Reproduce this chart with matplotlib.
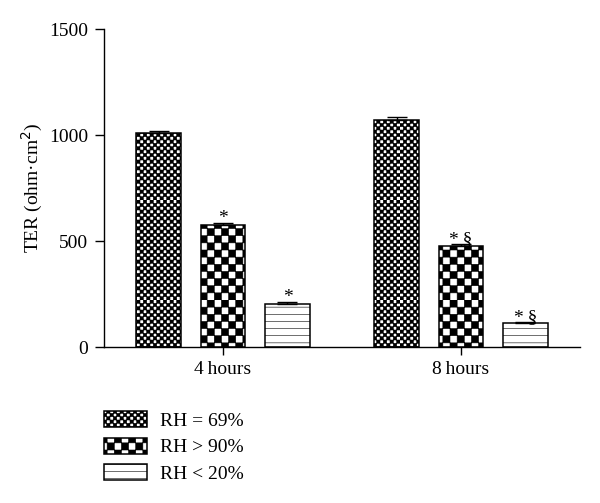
import warnings
import numpy as np
import matplotlib
matplotlib.use('Agg')
import matplotlib.pyplot as plt
import matplotlib.hatch as mhatch
from matplotlib.path import Path

warnings.filterwarnings('ignore')

# data
groups = ['4\u2009hours', '8\u2009hours']
series = ['RH = 69%', 'RH > 90%', 'RH < 20%']
ter_mean = [[1010, 1070], [578, 475], [205, 112]]
ter_err = [[8, 18], [8, 12], [6, 6]]
marks = [['', ''], ['*', '*\u2009§'], ['*', '*\u2009§']]


# checkerboard / line fills as custom hatches (c = fine, k = coarse, h = lines)
class Checker(mhatch.HatchPatternBase):
    def __init__(self, hatch, density):
        self.n = 0
        if 'c' in hatch:
            self.n = 30
        elif 'k' in hatch:
            self.n = 14
        self.num_vertices = (self.n * self.n // 2) * 5

    def set_vertices_and_codes(self, vertices, codes):
        s = 1.0 / self.n
        sq = np.array([[0, 0], [s, 0], [s, s], [0, s], [0, 0]])
        cc = [Path.MOVETO, Path.LINETO, Path.LINETO, Path.LINETO, Path.CLOSEPOLY]
        k = 0
        for i in range(self.n):
            for j in range(self.n):
                if (i + j) % 2 == 0:
                    vertices[k:k + 5] = sq + [i * s, j * s]
                    codes[k:k + 5] = cc
                    k += 5


class Lines(mhatch.HatchPatternBase):
    def __init__(self, hatch, density):
        self.num_lines = 14 if 'h' in hatch else 0
        self.num_vertices = self.num_lines * 2

    def set_vertices_and_codes(self, vertices, codes):
        y = np.linspace(0, 1, self.num_lines, endpoint=False)
        vertices[0::2, 0] = 0
        vertices[0::2, 1] = y
        vertices[1::2, 0] = 1
        vertices[1::2, 1] = y
        codes[0::2] = Path.MOVETO
        codes[1::2] = Path.LINETO


mhatch._hatch_types.extend([Checker, Lines])

plt.rcParams['font.family'] = ['Liberation Serif', 'DejaVu Serif']
plt.rcParams['hatch.linewidth'] = 0.4
plt.rcParams['hatch.color'] = 'black'
fs = 14

fig = plt.figure(figsize=(6, 5.03), dpi=100)
ax = fig.add_axes([104 / 600, 1 - 347 / 503, 476 / 600, (347 - 29.3) / 503])

hatches = ['c', 'k', 'h']
width = 0.185
step = 0.271
x = np.arange(len(groups))
for i, name in enumerate(series):
    xs = x + (i - 1) * step
    ax.bar(xs, ter_mean[i], width, color='white', edgecolor='black',
           linewidth=1.1, hatch=hatches[i], label=name)
    ax.errorbar(xs, ter_mean[i], yerr=[np.zeros(len(groups)), ter_err[i]],
                fmt='none', ecolor='black', elinewidth=1, capsize=7, capthick=1)
    for j in range(len(groups)):
        if marks[i][j]:
            ax.annotate(marks[i][j], (xs[j], ter_mean[i][j] + ter_err[i][j]),
                        xytext=(0, -3), textcoords='offset points',
                        ha='center', va='bottom', fontsize=fs)

ax.set_xlim(-0.5, 1.5)
ax.set_ylim(0, 1500)
ax.set_yticks([0, 500, 1000, 1500])
ax.set_xticks(x)
ax.set_xticklabels(groups)
ax.spines['top'].set_visible(False)
ax.spines['right'].set_visible(False)
for s in ['left', 'bottom']:
    ax.spines[s].set_linewidth(1.0)
ax.tick_params(axis='y', direction='out', length=6.5, width=1.0, pad=5, labelsize=fs)
ax.tick_params(axis='x', direction='out', length=6, width=1.0, pad=4, labelsize=fs)
ax.set_ylabel('TER (ohm·cm$^2$)', fontsize=fs, labelpad=3)

fig.legend(loc='upper left', bbox_to_anchor=(104 / 600, 1 - 411 / 503),
           bbox_transform=fig.transFigure, frameon=False, fontsize=fs,
           borderpad=0, borderaxespad=0, handlelength=2.2, handleheight=0.9,
           handletextpad=0.7, labelspacing=0.4)

fig.savefig('out.png', dpi=100)
